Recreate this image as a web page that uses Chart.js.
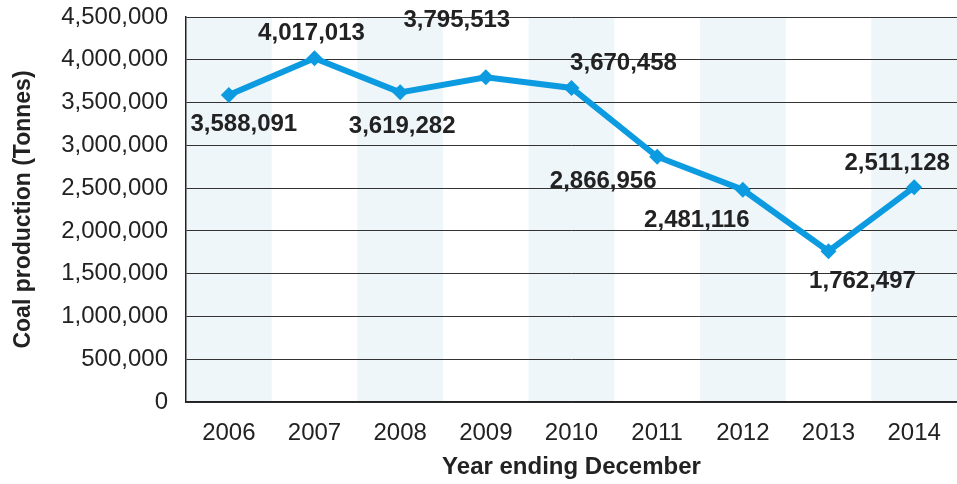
<!DOCTYPE html>
<html>
<head>
<meta charset="utf-8">
<script src="https://cdn.jsdelivr.net/npm/chart.js@4/dist/chart.umd.min.js"></script>
<style>
  html, body { margin: 0; padding: 0; background: #fff; }
  #wrap { width: 957px; height: 484px; }
</style>
</head>
<body>
<div id="wrap"><canvas id="coalChart" width="957" height="484"></canvas></div>
<script>
const years = ["2006","2007","2008","2009","2010","2011","2012","2013","2014"];
const coalTonnes = [3588091, 4017013, 3619282, 3795513, 3670458, 2866956, 2481116, 1762497, 2511128];
const yTicks = [0, 500000, 1000000, 1500000, 2000000, 2500000, 3000000, 3500000, 4000000, 4500000];

// where each value label sits relative to its point (px)
const labelOffsets = [[15,29],[-3,-25],[2,34],[-29,-57],[52,-25],[-54,25],[-46,31],[34,30],[-17,-24]];

const fmt = v => v.toLocaleString("en-US");

const shadePlugin = {
  id: "shade",
  beforeDraw(chart) {
    const { ctx, chartArea, scales } = chart;
    const w = scales.x.getPixelForValue(1) - scales.x.getPixelForValue(0);
    ctx.save();
    ctx.fillStyle = "#eef6fa";
    years.forEach((y, i) => {
      if (i % 2 !== 0) return;
      const cx = scales.x.getPixelForValue(i);
      ctx.fillRect(cx - w / 2, chartArea.top, w, chartArea.bottom - chartArea.top);
    });
    ctx.restore();
  }
};

const labelPlugin = {
  id: "valueLabels",
  afterDatasetsDraw(chart) {
    const { ctx } = chart;
    const meta = chart.getDatasetMeta(0);
    ctx.save();
    ctx.font = "bold 24px 'Liberation Sans', Arial, sans-serif";
    ctx.fillStyle = "#222";
    ctx.textAlign = "center";
    ctx.textBaseline = "middle";
    meta.data.forEach((pt, i) => {
      const [dx, dy] = labelOffsets[i];
      ctx.fillText(fmt(coalTonnes[i]), pt.x + dx, pt.y + dy);
    });
    ctx.restore();
  }
};

Chart.defaults.font.family = "'Liberation Sans', Arial, sans-serif";
Chart.defaults.color = "#222";

new Chart(document.getElementById("coalChart").getContext("2d"), {
  type: "line",
  data: {
    labels: years,
    datasets: [{
      data: coalTonnes,
      borderColor: "#0c9be0",
      backgroundColor: "#0c9be0",
      borderWidth: 6,
      pointStyle: "rectRot",
      pointRadius: 8,
      pointBorderWidth: 0,
      tension: 0,
      clip: false
    }]
  },
  options: {
    responsive: false,
    animation: false,
    layout: { autoPadding: false, padding: { top: 17, right: 0, left: 10, bottom: 0 } },
    plugins: { legend: { display: false }, tooltip: { enabled: false } },
    scales: {
      x: {
        offset: true,
        afterFit(scale) { scale.height = 82; scale.paddingRight = 0; scale.paddingLeft = 0; },
        grid: { display: false, drawTicks: false },
        border: { display: true, color: "#222", width: 1.5 },
        ticks: { font: { size: 24 }, padding: 17, color: "#222" },
        title: { display: true, text: "Year ending December", font: { size: 24, weight: "bold" }, padding: { top: 0, bottom: 2 } }
      },
      y: {
        min: 0,
        max: 4500000,
        afterBuildTicks(scale) { scale.ticks = yTicks.map(v => ({ value: v })); },
        afterFit(scale) { scale.width = 176; scale.paddingTop = 0; scale.paddingBottom = 0; },
        grid: { color: "#333", lineWidth: 1, drawTicks: false },
        border: { display: true, color: "#222", width: 1.5 },
        ticks: { font: { size: 24 }, padding: 18, color: "#222", callback: v => fmt(v) },
        title: { display: true, text: "Coal production (Tonnes)", font: { size: 23, weight: "bold" }, padding: 0 }
      }
    }
  },
  plugins: [shadePlugin, labelPlugin]
});
</script>
</body>
</html>
